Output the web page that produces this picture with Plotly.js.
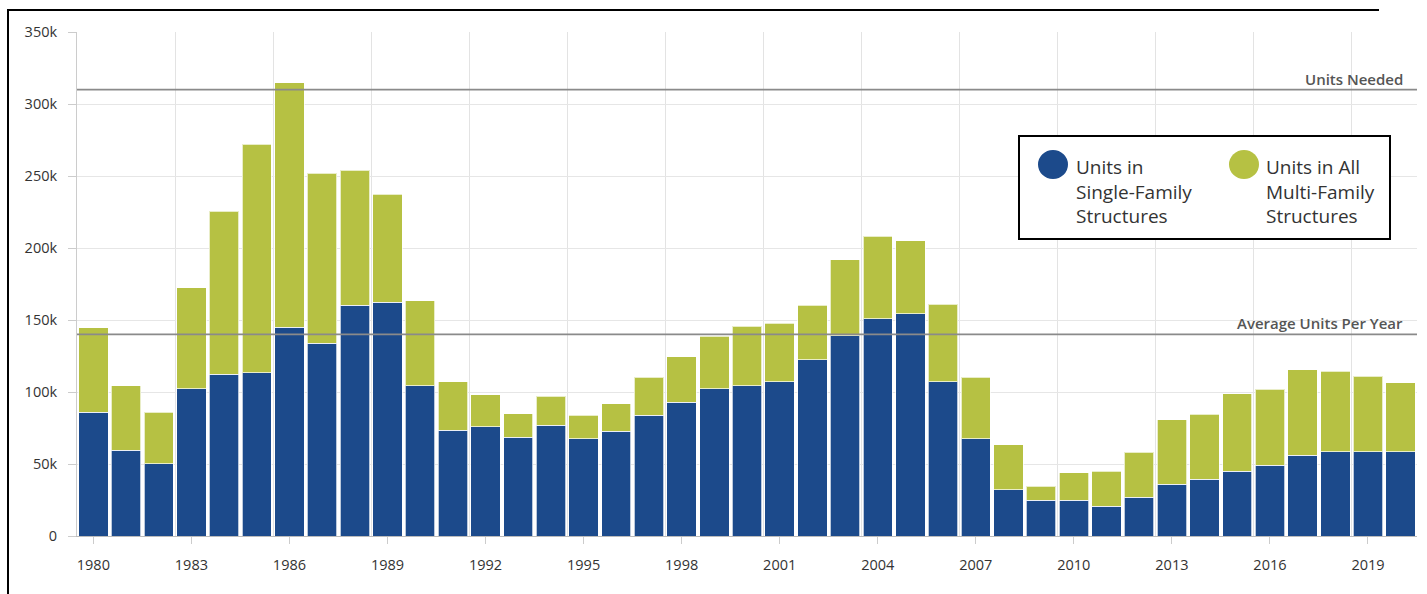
<!DOCTYPE html>
<html>
<head>
<meta charset="utf-8">
<script src="https://cdn.plot.ly/plotly-3.0.1.min.js"></script>
<style>
  html, body { margin: 0; padding: 0; background: #fff; }
  #chart { width: 1427px; height: 594px; position: absolute; left: 0; top: 0; }
  #frame { position: absolute; left: 7px; top: 9px; width: 1370px; height: 590px;
           border-top: 2px solid #000; border-left: 2px solid #000; pointer-events: none; }
</style>
</head>
<body>
<div id="chart"></div>
<div id="frame"></div>
<script>
// ---- data ----
const years = [1980,1981,1982,1983,1984,1985,1986,1987,1988,1989,
               1990,1991,1992,1993,1994,1995,1996,1997,1998,1999,
               2000,2001,2002,2003,2004,2005,2006,2007,2008,2009,
               2010,2011,2012,2013,2014,2015,2016,2017,2018,2019,2020];
const singleFamily = [86000,59500,50200,102300,112500,113400,144900,133800,160400,162300,
                      104200,73600,75700,68500,76900,67400,72700,83800,93000,102100,
                      104200,107200,122400,138900,150900,154200,107200,67600,32000,24800,
                      24800,20600,26900,36100,39400,45100,49300,56200,58500,58500,58500];
const multiFamily  = [58600,44700,35800,70100,113000,158600,169900,118100,93600,75200,
                      59000,33600,22300,16500,20300,16400,19200,26400,31500,36600,
                      41600,40700,37800,52800,57200,50900,53900,42600,31400,9900,
                      19200,24500,31400,44500,45300,53700,52600,59100,55900,52600,47800];
const unitsNeeded = 310000;
const averageUnitsPerYear = 140000;
const seriesNames = ['Units in<br>Single-Family<br>Structures', 'Units in All<br>Multi-Family<br>Structures'];
const lineLabels = ['Units Needed', 'Average Units Per Year'];

// ---- styling ----
const BLUE = '#1c4a8b';
const GREEN = '#b6c143';
const FONT = '"Open Sans", Lato, sans-serif';
const M = {l: 77, r: 10, t: 32, b: 58};
const W = 1427, H = 594;
const PW = W - M.l - M.r, PH = H - M.t - M.b;
const px = x => (x - M.l) / PW;          // pixel -> paper x
const py = y => (H - M.b - y) / PH;      // pixel -> paper y

const traces = [
  { type: 'bar', x: years, y: singleFamily, name: 'single', showlegend: false,
    marker: { color: BLUE, line: { color: 'rgba(255,255,255,0.7)', width: 1 } }, hoverinfo: 'x+y' },
  { type: 'bar', x: years, y: multiFamily, name: 'multi', showlegend: false,
    marker: { color: GREEN, line: { color: 'rgba(255,255,255,0.7)', width: 1 } }, hoverinfo: 'x+y' }
];

const xr = [years[0] - 0.5, years[years.length - 1] + 0.5];

const layout = {
  width: W, height: H,
  margin: M,
  paper_bgcolor: '#fff', plot_bgcolor: '#fff',
  barmode: 'stack', bargap: 0.1,
  font: { family: FONT, color: '#333' },
  showlegend: false,
  xaxis: {
    type: 'linear', range: xr, tick0: years[0], dtick: 3,
    ticks: 'outside', ticklen: 7, tickcolor: '#ccc', tickwidth: 1,
    showgrid: false, zeroline: false, showline: true, linecolor: '#bbb', linewidth: 1,
    tickfont: { family: FONT, size: 14.5, color: '#333' }, ticklabelstandoff: 9,
    minor: { tick0: years[0] + 2.5, dtick: 3, showgrid: true, gridcolor: '#e3e3e3', gridwidth: 1, ticks: '' }
  },
  yaxis: {
    range: [0, 350000], dtick: 50000, tickformat: '~s',
    ticks: 'outside', ticklen: 8, tickcolor: '#ccc', tickwidth: 1,
    showgrid: true, gridcolor: '#e6e6e6', gridwidth: 1,
    zeroline: false, showline: true, linecolor: '#ccc', linewidth: 1,
    tickfont: { family: FONT, size: 14.5, color: '#333' }, ticklabelstandoff: 8
  },
  shapes: [
    { type: 'line', xref: 'paper', yref: 'y', x0: 0, x1: 1, y0: unitsNeeded, y1: unitsNeeded,
      line: { color: '#8a8a8a', width: 1.6 }, layer: 'above' },
    { type: 'line', xref: 'paper', yref: 'y', x0: 0, x1: 1, y0: averageUnitsPerYear, y1: averageUnitsPerYear,
      line: { color: '#8a8a8a', width: 1.6 }, layer: 'above' },
    // legend box
    { type: 'rect', xref: 'paper', yref: 'paper', x0: px(1019), x1: px(1390), y0: py(239), y1: py(136),
      fillcolor: '#fff', line: { color: '#000', width: 2 }, layer: 'above' },
    { type: 'circle', xref: 'paper', yref: 'paper', x0: px(1038), x1: px(1068), y0: py(179), y1: py(150),
      fillcolor: BLUE, line: { width: 0 }, layer: 'above' },
    { type: 'circle', xref: 'paper', yref: 'paper', x0: px(1229), x1: px(1259), y0: py(179), y1: py(150),
      fillcolor: GREEN, line: { width: 0 }, layer: 'above' }
  ],
  annotations: [
    { xref: 'paper', yref: 'y', x: 1, y: unitsNeeded, xanchor: 'right', yanchor: 'bottom',
      xshift: -12, yshift: -1, showarrow: false, text: lineLabels[0],
      font: { family: FONT, size: 15, weight: 600, color: '#555' } },
    { xref: 'paper', yref: 'y', x: 1, y: averageUnitsPerYear, xanchor: 'right', yanchor: 'bottom',
      xshift: -12, yshift: -1, showarrow: false, text: lineLabels[1],
      font: { family: FONT, size: 15, weight: 600, color: '#555' } },
    { xref: 'paper', yref: 'paper', x: px(1074), y: py(152), xanchor: 'left', yanchor: 'top',
      align: 'left', showarrow: false, text: seriesNames[0],
      font: { family: FONT, size: 19, color: '#333' } },
    { xref: 'paper', yref: 'paper', x: px(1264), y: py(152), xanchor: 'left', yanchor: 'top',
      align: 'left', showarrow: false, text: seriesNames[1],
      font: { family: FONT, size: 19, color: '#333' } }
  ]
};

Plotly.newPlot('chart', traces, layout, { displayModeBar: false, staticPlot: true });
</script>
</body>
</html>
